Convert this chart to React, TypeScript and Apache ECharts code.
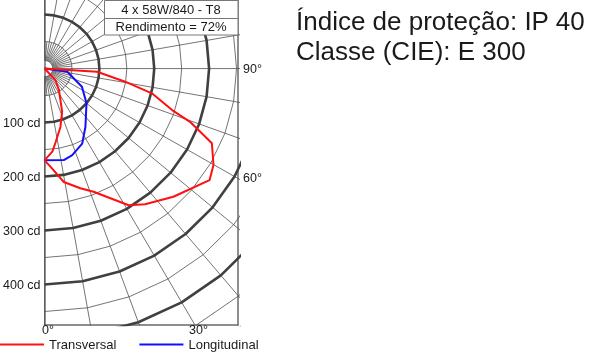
import React, { useEffect, useRef } from "react";
import * as echarts from "echarts";

// Transversal (red) curve: angle from nadir (deg) and luminous intensity (cd)
const transAngles = [90, 86.5, 80.6, 76.8, 71.7, 69.6, 65.6, 59.9, 55.5, 44.7, 36.1, 31.2, 21.4, 16.4, 9.5, 3.4, 0, 5.4, 8.4, 15.0, 21.9, 33.2, 43.2, 90];
const transCd = [0, 96, 149, 201, 245, 283, 335, 356, 365, 334, 311, 296, 245, 231, 213, 182, 170, 154, 138, 112, 86, 48, 29, 0];

// Longitudinal (blue) curve
const longAngles = [90, 81.9, 63.8, 49.9, 34.7, 26.3, 17.5, 11.7, 0];
const longCd = [0, 42, 76, 100, 131, 155, 168, 173, 170];

// Polar grid definition
const ringValues = [15, 50, 100, 150, 200, 250, 300, 350, 400, 450, 500, 550, 600];
const spokeAngles = [0, 10, 20, 30, 40, 50, 60, 70, 80, 90, 100, 110, 120, 130, 140, 150, 160, 170, 180];
const fineSpokeAngles = [5, 15, 25, 35, 45, 55, 65, 75, 85, 95, 105, 115, 125, 135, 145, 155, 165, 175];

// Tick labels
const cdTicks = [100, 200, 300, 400];
const bottomAngleTicks = [0, 30];
const sideAngleTicks = [60, 90];

const seriesNames = ["Transversal", "Longitudinal"];
const lampLabel = "4 x 58W/840 - T8";
const efficiencyLabel = "Rendimento = 72%";
const infoLines = ["Índice de proteção: IP 40", "Classe (CIE): E 300"];

const X_MAX = 352.7;
const Y_MAX = 127;
const Y_MIN = -475;

const FONT = "'Liberation Sans', Arial, sans-serif";

const rad = (d: number) => (d * Math.PI) / 180;
const toXY = (deg: number, r: number): [number, number] => [r * Math.sin(rad(deg)), -r * Math.cos(rad(deg))];

export default function App() {
  const ref = useRef<HTMLDivElement>(null);

  useEffect(() => {
    if (!ref.current) return;
    const chart = echarts.init(ref.current, undefined, { renderer: "svg" });

    const gridSeries: any[] = [];
    ringValues.forEach((r) => {
      const step = r <= 50 ? 5 : 10;
      const pts: [number, number][] = [];
      for (let a = 0; a <= 180; a += step) pts.push(toXY(a, r));
      const thick = r % 100 === 0;
      gridSeries.push({
        type: "line",
        data: pts,
        symbol: "none",
        silent: true,
        clip: true,
        z: thick ? 2 : 1,
        lineStyle: { color: thick ? "#404040" : "#505050", width: thick ? 2.6 : 0.8 },
      });
    });
    spokeAngles.forEach((a) => {
      gridSeries.push({
        type: "line",
        data: [toXY(a, 15), toXY(a, 800)],
        symbol: "none",
        silent: true,
        clip: true,
        z: 1,
        lineStyle: { color: "#505050", width: 0.8 },
      });
    });
    fineSpokeAngles.forEach((a) => {
      gridSeries.push({
        type: "line",
        data: [toXY(a, 15), toXY(a, 50)],
        symbol: "none",
        silent: true,
        clip: true,
        z: 1,
        lineStyle: { color: "#505050", width: 0.8 },
      });
    });

    const transData = transAngles.map((a, i) => toXY(a, transCd[i]));
    const longData = longAngles.map((a, i) => toXY(a, longCd[i]));

    const angleFromBottom = (v: number) => Math.round((Math.atan2(v, -Y_MIN) * 180) / Math.PI);
    const angleFromSide = (v: number) => Math.round((Math.atan2(X_MAX, -v) * 180) / Math.PI);

    chart.setOption({
      animation: false,
      grid: { left: 44, top: 0, width: 194, height: 325, show: false },
      xAxis: {
        type: "value",
        min: 0,
        max: X_MAX,
        position: "bottom",
        axisLine: { show: true, onZero: false, lineStyle: { color: "#6a6a6a", width: 1.5 } },
        axisTick: { show: false },
        splitLine: { show: false },
        axisLabel: {
          show: true,
          customValues: bottomAngleTicks.map((a) => -Y_MIN * Math.tan(rad(a))),
          formatter: (v: number) => `${angleFromBottom(v)}°`,
          margin: 0,
          padding: [0, 0, 0, 7],
          lineHeight: 10,
          color: "#1a1a1a",
          fontSize: 12.5,
          fontFamily: FONT,
        },
      },
      yAxis: [
        {
          type: "value",
          min: Y_MIN,
          max: Y_MAX,
          position: "left",
          axisLine: { show: true, onZero: false, lineStyle: { color: "#6a6a6a", width: 1.5 } },
          axisTick: { show: false },
          splitLine: { show: false },
          axisLabel: {
            show: true,
            customValues: cdTicks.map((c) => -c),
            formatter: (v: number) => `${Math.round(-v)} cd`,
            margin: 4,
            color: "#1a1a1a",
            fontSize: 12.5,
            fontFamily: FONT,
          },
        },
        {
          type: "value",
          min: Y_MIN,
          max: Y_MAX,
          position: "right",
          axisLine: { show: true, onZero: false, lineStyle: { color: "#6a6a6a", width: 1.5 } },
          axisTick: { show: false },
          splitLine: { show: false },
          axisLabel: {
            show: true,
            customValues: sideAngleTicks.map((a) => (a === 90 ? 0 : -X_MAX / Math.tan(rad(a)))),
            formatter: (v: number) => `${angleFromSide(v)}°`,
            margin: 5,
            padding: [0, 0, 5, 0],
            color: "#1a1a1a",
            fontSize: 12.5,
            fontFamily: FONT,
          },
        },
      ],
      legend: {
        data: seriesNames,
        left: 0,
        top: 338,
        padding: 0,
        icon: "rect",
        itemWidth: 44,
        itemHeight: 2,
        itemGap: 23,
        textStyle: { fontSize: 13, lineHeight: 12, color: "#1a1a1a", fontFamily: FONT },
      },
      series: [
        ...gridSeries,
        {
          name: seriesNames[0],
          type: "line",
          data: transData,
          symbol: "none",
          clip: true,
          z: 5,
          color: "#ff1010",
          lineStyle: { color: "#ff1010", width: 2 },
        },
        {
          name: seriesNames[1],
          type: "line",
          data: longData,
          symbol: "none",
          clip: true,
          z: 4,
          color: "#1010ff",
          lineStyle: { color: "#1010ff", width: 2 },
        },
      ],
      graphic: [
        {
          type: "rect",
          z: 100,
          shape: { x: 104.5, y: 0.5, width: 133.5, height: 34.5 },
          style: { fill: "#ffffff", stroke: "#777777", lineWidth: 1 },
        },
        {
          type: "line",
          z: 101,
          shape: { x1: 104.5, y1: 18.5, x2: 238, y2: 18.5 },
          style: { stroke: "#777777", lineWidth: 1 },
        },
        {
          type: "text",
          z: 102,
          style: { text: lampLabel, x: 171, y: 9.5, align: "center", verticalAlign: "middle", font: `13px ${FONT}`, fill: "#1a1a1a" },
        },
        {
          type: "text",
          z: 102,
          style: { text: efficiencyLabel, x: 171, y: 26.5, align: "center", verticalAlign: "middle", font: `13px ${FONT}`, fill: "#1a1a1a" },
        },
        {
          type: "text",
          z: 102,
          style: { text: infoLines[0], x: 296, y: 20.5, align: "left", verticalAlign: "middle", font: `26px ${FONT}`, fill: "#1a1a1a" },
        },
        {
          type: "text",
          z: 102,
          style: { text: infoLines[1], x: 296, y: 50.5, align: "left", verticalAlign: "middle", font: `26px ${FONT}`, fill: "#1a1a1a" },
        },
      ],
    });

    return () => chart.dispose();
  }, []);

  return <div ref={ref} style={{ position: "fixed", left: 0, top: 0, width: 590, height: 352 }} />;
}
